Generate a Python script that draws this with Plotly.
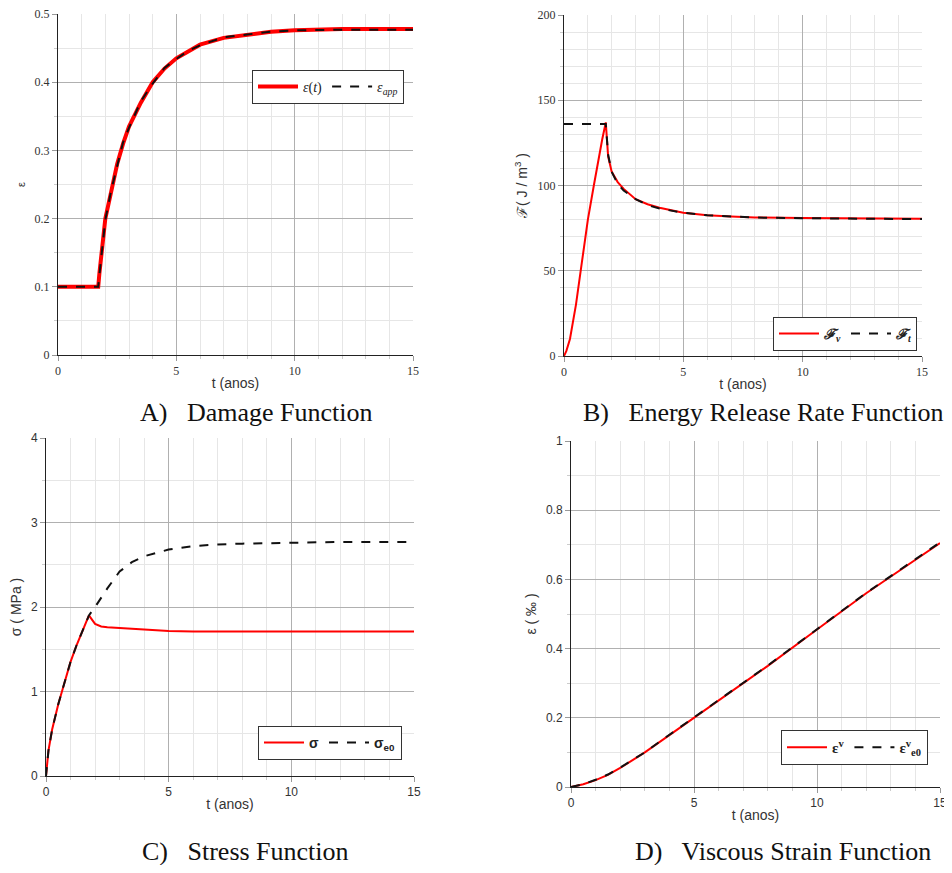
import plotly.graph_objects as go

# ---------------- data ----------------
# A) Damage function
t_A = [0, 1.7, 1.75, 2.0, 2.25, 2.5, 2.75, 3.0, 3.5, 4.0, 4.5, 5.0, 5.5, 6.0, 7.0, 8.0, 9.0, 10.0, 12.0, 15.0]
eps_t = [0.1, 0.1, 0.12, 0.2, 0.24, 0.28, 0.31, 0.335, 0.37, 0.40, 0.42, 0.435, 0.445, 0.455, 0.465, 0.47, 0.474, 0.476, 0.478, 0.478]
eps_app = [0.1, 0.1, 0.118, 0.198, 0.242, 0.278, 0.312, 0.333, 0.372, 0.398, 0.421, 0.434, 0.446, 0.454, 0.466, 0.47, 0.474, 0.476, 0.477, 0.477]

# B) Energy release rate
t_Fv = [0, 0.1, 0.25, 0.5, 0.75, 1.0, 1.25, 1.5, 1.6, 1.75, 1.85, 2.0, 2.25, 2.5, 3.0, 3.5, 4.0, 5.0, 6.0, 7.0, 8.0, 10.0, 12.0, 15.0]
F_v = [0, 3, 10, 30, 55, 80, 100, 120, 127, 137, 117, 108, 102, 98, 92, 89, 87, 84, 82.5, 81.8, 81.3, 81, 80.7, 80.5]
t_Ft = [0, 1.75, 1.85, 2.0, 2.25, 2.5, 3.0, 3.5, 4.0, 5.0, 6.0, 7.0, 8.0, 10.0, 12.0, 15.0]
F_t = [136, 136, 118, 108, 101, 97, 92, 88.5, 86.5, 84, 82.5, 81.7, 81.2, 80.8, 80.5, 80.3]

# C) Stress function
t_sig = [0, 0.1, 0.25, 0.5, 0.75, 1.0, 1.25, 1.5, 1.75, 2.0, 2.25, 2.5, 3.0, 4.0, 5.0, 6.0, 10.0, 15.0]
sigma = [0, 0.3, 0.55, 0.85, 1.1, 1.35, 1.55, 1.72, 1.9, 1.8, 1.77, 1.76, 1.75, 1.73, 1.715, 1.71, 1.71, 1.71]
t_sig0 = [0, 0.1, 0.25, 0.5, 0.75, 1.0, 1.25, 1.5, 1.75, 2.0, 2.5, 3.0, 3.5, 4.0, 5.0, 6.0, 7.0, 8.0, 10.0, 12.0, 15.0]
sigma_e0 = [0, 0.3, 0.55, 0.85, 1.1, 1.35, 1.55, 1.72, 1.9, 2.0, 2.22, 2.42, 2.53, 2.6, 2.68, 2.72, 2.74, 2.75, 2.76, 2.77, 2.77]

# D) Viscous strain
t_D = [0, 0.5, 1, 1.5, 2, 3, 4, 5, 6, 8, 10, 12, 15]
eps_v = [0, 0.008, 0.02, 0.035, 0.055, 0.1, 0.15, 0.2, 0.25, 0.35, 0.455, 0.56, 0.705]
eps_v_e0 = [0, 0.008, 0.021, 0.036, 0.056, 0.1, 0.151, 0.201, 0.251, 0.351, 0.456, 0.561, 0.707]

# tick labels
x_ticks = [0, 5, 10, 15]
yA_ticks = [0, 0.1, 0.2, 0.3, 0.4, 0.5]
yA_text = ["0", "0.1", "0.2", "0.3", "0.4", "0.5"]
yB_ticks = [0, 50, 100, 150, 200]
yC_ticks = [0, 1, 2, 3, 4]
yD_ticks = [0, 0.2, 0.4, 0.6, 0.8, 1.0]
yD_text = ["0", "0.2", "0.4", "0.6", "0.8", "1"]

RED = "#ff0000"
BLACK = "#111111"
OFF = 8  # page body margin
W, H = 952 - OFF - 4, 873 - 2 * OFF

def px_x(v):
    return (v - OFF) / W

def px_y(v):
    return 1 - (v - OFF) / H

fig = go.Figure()

fig.add_trace(go.Scatter(x=t_A, y=eps_t, mode="lines", name="<i>ε</i>(<i>t</i>)",
                         line=dict(color=RED, width=4), xaxis="x", yaxis="y", legend="legend"))
fig.add_trace(go.Scatter(x=t_A, y=eps_app, mode="lines", name="<i>ε<sub>app</sub></i>",
                         line=dict(color=BLACK, width=2, dash="dash"), xaxis="x", yaxis="y", legend="legend"))

fig.add_trace(go.Scatter(x=t_Fv, y=F_v, mode="lines", name="<b><i>ℱ<sub>v</sub></i></b>",
                         line=dict(color=RED, width=2), xaxis="x2", yaxis="y2", legend="legend2"))
fig.add_trace(go.Scatter(x=t_Ft, y=F_t, mode="lines", name="<b><i>ℱ<sub>t</sub></i></b>",
                         line=dict(color=BLACK, width=2, dash="dash"), xaxis="x2", yaxis="y2", legend="legend2"))

fig.add_trace(go.Scatter(x=t_sig, y=sigma, mode="lines", name="<b>σ</b>",
                         line=dict(color=RED, width=2), xaxis="x3", yaxis="y3", legend="legend3"))
fig.add_trace(go.Scatter(x=t_sig0, y=sigma_e0, mode="lines", name="<b>σ<sub>e0</sub></b>",
                         line=dict(color=BLACK, width=2, dash="dash"), xaxis="x3", yaxis="y3", legend="legend3"))

fig.add_trace(go.Scatter(x=t_D, y=eps_v, mode="lines", name="<b>ε<sup>v</sup></b>",
                         line=dict(color=RED, width=2), xaxis="x4", yaxis="y4", legend="legend4"))
fig.add_trace(go.Scatter(x=t_D, y=eps_v_e0, mode="lines", name="<b>ε<sup>v</sup><sub>e0</sub></b>",
                         line=dict(color=BLACK, width=2, dash="dash"), xaxis="x4", yaxis="y4", legend="legend4"))

serif = "Liberation Serif"
sans = "Liberation Sans"

def xaxis(dom, anchor, tickfont):
    return dict(domain=dom, anchor=anchor, range=[0, 15], tickvals=x_ticks, automargin=False,
                showline=True, linecolor="#222", linewidth=1, ticklabeloverflow="allow",
                ticks="outside", ticklen=5, tickcolor="#999",
                showgrid=True, gridcolor="#b0b0b0", gridwidth=1,
                minor=dict(dtick=1, showgrid=True, gridcolor="#e6e6e6", ticks="outside", ticklen=3, tickcolor="#ccc"),
                zeroline=False, tickfont=dict(family=tickfont, size=12, color="#333"),
                title=dict(text="t (anos)", font=dict(family=sans, size=14, color="#333"), standoff=0))

def yaxis(dom, anchor, rng, tickvals, ticktext, minor, title, tickfont, tsize=14):
    return dict(domain=dom, anchor=anchor, range=rng, tickvals=tickvals, ticktext=ticktext,
                automargin=False, ticklabeloverflow="allow",
                showline=True, linecolor="#222", linewidth=1,
                ticks="outside", ticklen=5, tickcolor="#999",
                showgrid=True, gridcolor="#b0b0b0", gridwidth=1,
                minor=dict(dtick=minor, showgrid=True, gridcolor="#e6e6e6", ticks="outside", ticklen=3, tickcolor="#ccc"),
                zeroline=False, tickfont=dict(family=tickfont, size=12, color="#333"),
                title=dict(text=title, font=dict(family=sans, size=tsize, color="#333"), standoff=6))

A = dict(l=58, r=413, t=14, b=355)
B = dict(l=564, r=922, t=15, b=356)
C = dict(l=46, r=414, t=438, b=776)
D = dict(l=571, r=940, t=441, b=787)

def dx(p):
    return [px_x(p["l"]), px_x(p["r"])]

def dy(p):
    return [px_y(p["b"]), px_y(p["t"])]

legend_common = dict(orientation="h", bordercolor="#333", borderwidth=1, bgcolor="white",
                     xanchor="right", yanchor="top", xref="paper", yref="paper",
                     itemwidth=40, tracegroupgap=0)

fig.update_layout(
    width=W, height=H, margin=dict(l=0, r=0, t=0, b=0, autoexpand=False),
    paper_bgcolor="white", plot_bgcolor="white",
    xaxis=xaxis(dx(A), "y", serif),
    yaxis=yaxis(dy(A), "x", [0, 0.5], yA_ticks, yA_text, 0.05, "ε", serif, 11),
    xaxis2=xaxis(dx(B), "y2", serif),
    yaxis2=yaxis(dy(B), "x2", [0, 200], yB_ticks, [str(v) for v in yB_ticks], 10,
                 "ℱ( J / m<sup>3</sup> )", serif),
    xaxis3=xaxis(dx(C), "y3", sans),
    yaxis3=yaxis(dy(C), "x3", [0, 4], yC_ticks, [str(v) for v in yC_ticks], 0.5, "σ ( MPa )", sans),
    xaxis4=xaxis(dx(D), "y4", sans),
    yaxis4=yaxis(dy(D), "x4", [0, 1], yD_ticks, yD_text, 0.1, "ε ( ‰ )", sans),
    legend=dict(legend_common, x=px_x(404), y=px_y(70), font=dict(family=serif, size=14, color="#222")),
    legend2=dict(legend_common, x=px_x(917), y=px_y(317), font=dict(family=serif, size=14, color="#222")),
    legend3=dict(legend_common, x=px_x(402), y=px_y(726), font=dict(family=sans, size=14, color="#222")),
    legend4=dict(legend_common, x=px_x(928), y=px_y(730), font=dict(family=serif, size=15, color="#222")),
    showlegend=True,
)

captions = [("A)   Damage Function", 256, 413, 26),
            ("B)   Energy Release Rate Function", 763, 413, 26),
            ("C)   Stress Function", 245, 851, 26),
            ("D)   Viscous Strain Function", 783, 851, 26)]
for text, cx, cy, fs in captions:
    fig.add_annotation(text=text, x=px_x(cx), y=px_y(cy), xref="paper", yref="paper",
                       showarrow=False, xanchor="center", yanchor="middle",
                       font=dict(family=serif, size=fs, color="#111"))

fig.write_html("out.html")
